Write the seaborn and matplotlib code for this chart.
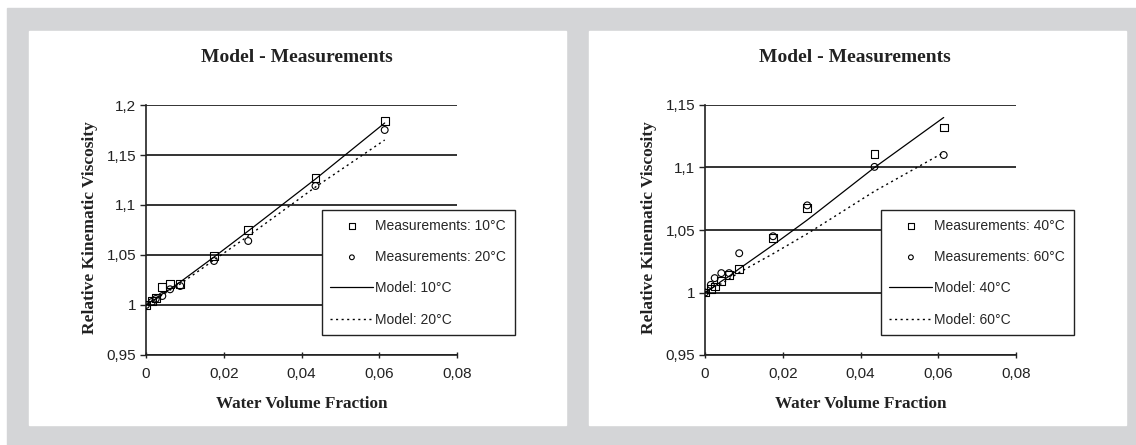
import matplotlib
matplotlib.use("Agg")
import matplotlib.pyplot as plt
import seaborn as sns
from matplotlib.patches import Rectangle

# water volume fraction (x) for both temperature panels
water_frac = [0, 0.0015, 0.0025, 0.0042, 0.0062, 0.0088, 0.0175, 0.0263, 0.0436, 0.0614]

# left panel: 10 / 20 degC
meas_10 = [1.000, 1.0037, 1.0074, 1.018, 1.0214, 1.0214, 1.049, 1.0754, 1.127, 1.184]
meas_20 = [1.000, 1.003, 1.006, 1.009, 1.0157, 1.019, 1.044, 1.064, 1.119, 1.175]
model_10 = [1.000, 1.004, 1.006, 1.011, 1.016, 1.023, 1.048, 1.074, 1.126, 1.182]
model_20 = [1.000, 1.004, 1.006, 1.010, 1.015, 1.021, 1.045, 1.069, 1.118, 1.165]

# right panel: 40 / 60 degC
meas_40 = [1.000, 1.0027, 1.0048, 1.0093, 1.0141, 1.0191, 1.0439, 1.0673, 1.111, 1.132]
meas_60 = [1.000, 1.0061, 1.0115, 1.0155, 1.0155, 1.0314, 1.045, 1.0697, 1.1005, 1.110]
model_40 = [1.000, 1.003, 1.005, 1.009, 1.013, 1.019, 1.038, 1.058, 1.100, 1.140]
model_60 = [1.000, 1.003, 1.005, 1.007, 1.011, 1.016, 1.031, 1.047, 1.081, 1.112]

x_ticks = [0, 0.02, 0.04, 0.06, 0.08]
x_ticklabels = ["0", "0,02", "0,04", "0,06", "0,08"]
y_ticks_left = [0.95, 1.0, 1.05, 1.1, 1.15, 1.2]
y_ticklabels_left = ["0,95", "1", "1,05", "1,1", "1,15", "1,2"]
y_ticks_right = [0.95, 1.0, 1.05, 1.1, 1.15]
y_ticklabels_right = ["0,95", "1", "1,05", "1,1", "1,15"]

GRAY = "#d4d5d7"
SERIF = "Liberation Serif"
SANS = "Liberation Sans"
W, H = 1136, 445

sns.set_style("white")
plt.rcParams["font.family"] = [SANS, "DejaVu Sans"]


def fx(px):
    return px / W


def fy(py):
    return 1 - py / H


def draw_panel(fig, left_px, meas_a, meas_b, mod_a, mod_b, temps, yticks, ylabels):
    ax = fig.add_axes([fx(left_px), fy(355), 311 / W, 250 / H])
    ax.set_facecolor("none")

    sns.scatterplot(x=water_frac, y=meas_a, marker="s", s=32, facecolor="none",
                    edgecolor="black", linewidth=0.8, ax=ax, zorder=4,
                    label=f"Measurements: {temps[0]}°C")
    sns.scatterplot(x=water_frac, y=meas_b, marker="o", s=24, facecolor="none",
                    edgecolor="black", linewidth=0.8, ax=ax, zorder=4,
                    label=f"Measurements: {temps[1]}°C")
    sns.lineplot(x=water_frac, y=mod_a, color="black", linewidth=0.9, ax=ax,
                 zorder=3, label=f"Model: {temps[0]}°C")
    sns.lineplot(x=water_frac, y=mod_b, color="black", linewidth=1.0,
                 linestyle=(0, (1.5, 2.5)), ax=ax, zorder=3,
                 label=f"Model: {temps[1]}°C")

    ax.set_xlim(0, 0.08)
    ax.set_ylim(yticks[0], yticks[-1])
    ax.set_xticks(x_ticks)
    ax.set_xticklabels(x_ticklabels)
    ax.set_yticks(yticks)
    ax.set_yticklabels(ylabels)
    ax.yaxis.grid(True, color="#333333", linewidth=1.4)
    ax.xaxis.grid(False)
    ax.set_axisbelow(True)
    for side in ["top", "right"]:
        ax.spines[side].set_visible(False)
    for side in ["left", "bottom"]:
        ax.spines[side].set_color("#222222")
        ax.spines[side].set_linewidth(1.2)
    ax.tick_params(axis="x", direction="inout", length=5, width=1, pad=6,
                   labelsize=11, colors="#222222", bottom=True)
    ax.tick_params(axis="y", direction="out", length=4, width=1, pad=3,
                   labelsize=11, colors="#222222", left=True)

    ax.set_xlabel("Water Volume Fraction", family=SERIF, fontweight="bold",
                  fontsize=12.3, color="#222222")
    ax.set_ylabel("Relative Kinematic Viscosity", family=SERIF, fontweight="bold",
                  fontsize=12.5, color="#222222")
    ax.xaxis.set_label_coords(0.5, -0.165)
    ax.yaxis.set_label_coords(-0.155, 0.51)

    leg = ax.legend(loc="lower left", bbox_to_anchor=(0.566, 0.08), frameon=True,
                    fancybox=False, shadow=False, fontsize=10, handlelength=3.1,
                    handletextpad=0.15, labelspacing=1.25, borderpad=0.6,
                    borderaxespad=0, markerscale=0.7, framealpha=1)
    leg.get_frame().set_edgecolor("#222222")
    leg.get_frame().set_facecolor("white")
    leg.get_frame().set_linewidth(1.0)
    leg.set_zorder(10)
    return ax


fig = plt.figure(figsize=(W / 100, H / 100), dpi=100)
fig.patch.set_facecolor("white")
fig.patches.append(Rectangle((fx(7), 0), 1 - fx(7), fy(8), transform=fig.transFigure,
                             color=GRAY, zorder=-3))
fig.patches.append(Rectangle((fx(29), fy(425)), 537 / W, 394 / H,
                             transform=fig.transFigure, color="white", zorder=-2))
fig.patches.append(Rectangle((fx(589), fy(425)), 537 / W, 394 / H,
                             transform=fig.transFigure, color="white", zorder=-2))

draw_panel(fig, 146, meas_10, meas_20, model_10, model_20, ["10", "20"],
           y_ticks_left, y_ticklabels_left)
draw_panel(fig, 705, meas_40, meas_60, model_40, model_60, ["40", "60"],
           y_ticks_right, y_ticklabels_right)

for cx in [297, 855]:
    fig.text(fx(cx), fy(58), "Model - Measurements", family=SERIF, fontweight="bold",
             fontsize=14, ha="center", va="center", color="#222222")

fig.savefig("out.png", dpi=100, facecolor=fig.get_facecolor())
